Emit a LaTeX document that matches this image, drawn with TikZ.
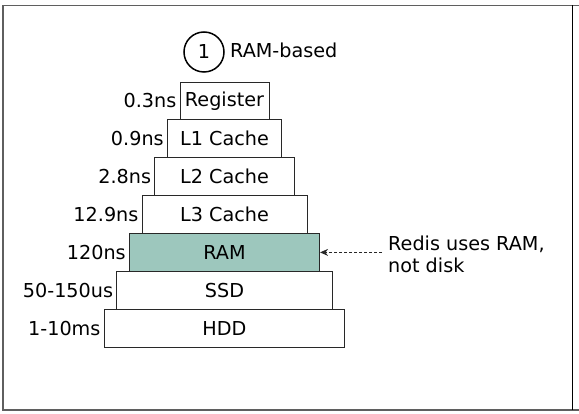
\documentclass[tikz,border=0pt]{standalone}
\usepackage{fontspec}
\setmainfont{DejaVu Sans}
\usetikzlibrary{arrows.meta,positioning}
\definecolor{ramfill}{RGB}{157,199,189}
\definecolor{framegray}{RGB}{95,95,95}
\definecolor{boxline}{RGB}{40,40,40}
\begin{document}
\begin{tikzpicture}[x=1pt,y=-1pt,
  txt/.style={font=\fontsize{19.2}{22.5}\selectfont},
  tier/.style={draw=boxline, line width=0.9pt, fill=white, inner sep=0pt, minimum height=37.86pt, txt},
  lab/.style={inner sep=0pt, txt},
  framepen/.style={draw=framegray, line width=1.8pt}]
\useasboundingbox (0,0) rectangle (579,414);
% frame
\draw[framepen] (2,5.5) -- (579,5.5);
\draw[framepen] (2,410) -- (579,410);
\draw[framepen] (2.6,5.5) -- (2.6,410);
\draw[black, line width=1.4pt] (572.5,5.5) -- (572.5,410);
% title
\node[draw, circle, line width=1.5pt, minimum size=40pt, inner sep=0pt, txt] (num) at (204,52) {1};
\node[lab, anchor=west] (title) at (230,50) {RAM-based};
% tiers
\node[tier, minimum width=89pt]    (reg) at (224.5,100.9) {Register};
\node[tier, minimum width=114.3pt] (l1)  at (224.5,138.8) {L1 Cache};
\node[tier, minimum width=139.6pt] (l2)  at (224.5,176.7) {L2 Cache};
\node[tier, minimum width=164.9pt] (l3)  at (224.5,214.5) {L3 Cache};
\node[tier, minimum width=190.2pt, fill=ramfill] (ram) at (224.5,252.4) {RAM};
\node[tier, minimum width=215.5pt] (ssd) at (224.5,290.2) {SSD};
\node[tier, minimum width=240.8pt] (hdd) at (224.5,328.1) {HDD};
% latency labels
\node[lab, left=3pt of reg] (lreg) {0.3ns};
\node[lab, left=3pt of l1]  (ll1)  {0.9ns};
\node[lab, left=3pt of l2]  (ll2)  {2.8ns};
\node[lab, left=3pt of l3]  (ll3)  {12.9ns};
\node[lab, left=3pt of ram] (lram) {120ns};
\node[lab, left=3pt of ssd] (lssd) {50-150us};
\node[lab, left=3pt of hdd] (lhdd) {1-10ms};
% note
\node[lab, anchor=north west, align=left] (redis) at (388,235.5) {Redis uses RAM,\\not disk};
\coordinate (arrstart) at ([xshift=-6pt]redis.west |- ram.east);
\draw[boxline, line width=0.9pt, dash pattern=on 3pt off 2pt, -{Stealth[length=8pt,width=7pt]}] (arrstart) -- (ram.east);
\end{tikzpicture}
\end{document}
